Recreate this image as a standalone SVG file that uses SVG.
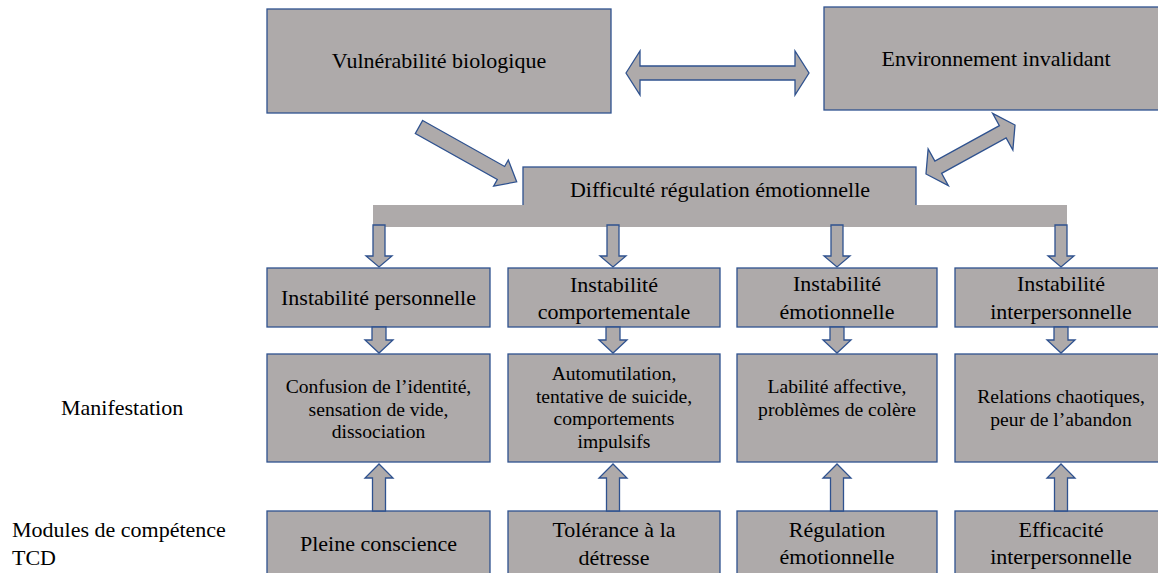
<svg xmlns="http://www.w3.org/2000/svg" width="1158" height="573" viewBox="0 0 1158 573">
<style>
.box{fill:#AEAAAA;stroke:#2F528F;stroke-width:1.3}
.bar{fill:#AEAAAA;stroke:none}
.arr{fill:#AEAAAA;stroke:#2F528F;stroke-width:1.3;stroke-linejoin:miter}
</style>
<rect width="1158" height="573" fill="#fff"/>
<g font-family="Liberation Serif, Times New Roman, DejaVu Serif, serif" fill="#000" text-anchor="middle" font-size="22">
<g id="vulnerabilite"><rect class="box" x="267" y="9" width="344" height="104"/><text x="439" y="68">Vulnérabilité biologique</text></g>
<g id="environnement"><rect class="box" x="824" y="7" width="344" height="103"/><text x="996" y="66">Environnement invalidant</text></g>
<g id="difficulte"><rect class="box" x="523" y="167" width="393" height="40"/><rect class="bar" x="373" y="205" width="694" height="22"/><text x="720" y="197">Difficulté régulation émotionnelle</text></g>
<g id="inst-perso"><rect class="box" x="267" y="268" width="223" height="59"/><text x="378.5" y="305">Instabilité personnelle</text></g>
<g id="inst-comp"><rect class="box" x="508" y="268" width="212" height="59"/><text x="614" y="292">Instabilité</text><text x="614" y="319">comportementale</text></g>
<g id="inst-emo"><rect class="box" x="737" y="268" width="200" height="59"/><text x="837" y="291">Instabilité</text><text x="837" y="319">émotionnelle</text></g>
<g id="inst-inter"><rect class="box" x="955" y="268" width="212" height="59"/><text x="1061" y="291">Instabilité</text><text x="1061" y="319">interpersonnelle</text></g>
<g font-size="19.6">
<g id="man-perso"><rect class="box" x="267" y="354" width="223" height="108"/><text x="378.5" y="393">Confusion de l’identité,</text><text x="378.5" y="415.5">sensation de vide,</text><text x="378.5" y="438">dissociation</text></g>
<g id="man-comp"><rect class="box" x="508" y="354" width="212" height="108"/><text x="614" y="380">Automutilation,</text><text x="614" y="402.5">tentative de suicide,</text><text x="614" y="425">comportements</text><text x="614" y="448">impulsifs</text></g>
<g id="man-emo"><rect class="box" x="737" y="354" width="200" height="108"/><text x="837" y="393">Labilité affective,</text><text x="837" y="415.5">problèmes de colère</text></g>
<g id="man-inter"><rect class="box" x="955" y="354" width="212" height="108"/><text x="1061" y="403">Relations chaotiques,</text><text x="1061" y="425.5">peur de l’abandon</text></g>
</g>
<g id="mod-pleine"><rect class="box" x="267" y="511" width="223" height="80"/><text x="378.5" y="551">Pleine conscience</text></g>
<g id="mod-tol"><rect class="box" x="508" y="511" width="212" height="80"/><text x="614" y="537">Tolérance à la</text><text x="614" y="565">détresse</text></g>
<g id="mod-reg"><rect class="box" x="737" y="511" width="200" height="80"/><text x="837" y="537">Régulation</text><text x="837" y="564">émotionnelle</text></g>
<g id="mod-eff"><rect class="box" x="955" y="511" width="212" height="80"/><text x="1061" y="537">Efficacité</text><text x="1061" y="564">interpersonnelle</text></g>
<g id="labels" text-anchor="start"><text x="61" y="415">Manifestation</text><text x="12" y="537">Modules de compétence</text><text x="12" y="565">TCD</text></g>
</g>
<defs>
<polygon id="down1" points="-6,0 6,0 6,31 13,31 0,42 -13,31 -6,31"/>
<polygon id="down2" points="-7,0 7,0 7,13 14,13 0,26 -14,13 -7,13"/>
<polygon id="up" points="-6.5,0 6.5,0 6.5,-33 14,-33 0,-47 -14,-33 -6.5,-33"/>
</defs>
<g id="connectors">
<polygon class="arr" points="626,73 640,51 640,66 795,66 795,51 809,73 795,95 795,80 640,80 640,95"/>
<polygon class="arr" transform="translate(419,127) rotate(29.3)" points="0,-7.5 94,-7.5 94,-15 112,0 94,15 94,7.5 0,7.5"/>
<polygon class="arr" transform="translate(970.5,149.5) rotate(-28.8)" points="-50.8,0 -36.8,-21 -36.8,-7 36.8,-7 36.8,-21 50.8,0 36.8,21 36.8,7 -36.8,7 -36.8,21"/>
<use class="arr" href="#down1" x="379" y="225"/>
<use class="arr" href="#down1" x="613" y="225"/>
<use class="arr" href="#down1" x="837" y="225"/>
<use class="arr" href="#down1" x="1061" y="225"/>
<use class="arr" href="#down2" x="379" y="327"/>
<use class="arr" href="#down2" x="613" y="327"/>
<use class="arr" href="#down2" x="837" y="327"/>
<use class="arr" href="#down2" x="1061" y="327"/>
<use class="arr" href="#up" x="379" y="511"/>
<use class="arr" href="#up" x="613" y="511"/>
<use class="arr" href="#up" x="837" y="511"/>
<use class="arr" href="#up" x="1061" y="511"/>
</g>
</svg>
